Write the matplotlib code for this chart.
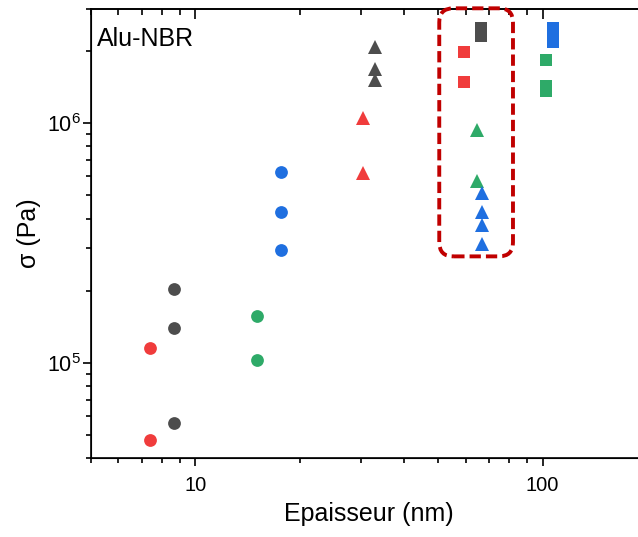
#!/usr/bin/env python3
# -*- encoding=UTF-8 -*-
import matplotlib
matplotlib.use("Agg")
import matplotlib.pyplot as plt
from matplotlib.patches import FancyBboxPatch
from matplotlib.transforms import IdentityTransform
from matplotlib.ticker import FuncFormatter, NullFormatter

# epaisseur (nm) / sigma (Pa), one list per colour and marker
red_circ_x = [7.4, 7.4]
red_circ_y = [1.155e5, 4.74e4]
gray_circ_x = [8.7, 8.7, 8.7]
gray_circ_y = [2.04e5, 1.40e5, 5.62e4]
green_circ_x = [15.0, 15.0]
green_circ_y = [1.56e5, 1.03e5]
blue_circ_x = [17.6, 17.6, 17.6]
blue_circ_y = [6.27e5, 4.25e5, 2.97e5]

red_tri_x = [30.3, 30.3]
red_tri_y = [1.05e6, 6.17e5]
gray_tri_x = [32.8, 32.8, 32.8]
gray_tri_y = [2.09e6, 1.68e6, 1.52e6]
green_tri_x = [64.8, 64.8]
green_tri_y = [9.36e5, 5.72e5]
blue_tri_x = [67.1, 67.1, 67.1, 67.1]
blue_tri_y = [5.13e5, 4.25e5, 3.76e5, 3.12e5]

red_sq_x = [59.4, 59.4]
red_sq_y = [1.99e6, 1.49e6]
gray_sq_x = [66.5, 66.5, 66.5]
gray_sq_y = [2.49e6, 2.40e6, 2.32e6]
green_sq_x = [102.4, 102.4, 102.4]
green_sq_y = [1.83e6, 1.43e6, 1.36e6]
blue_sq_x = [107.4, 107.4, 107.4]
blue_sq_y = [2.49e6, 2.33e6, 2.18e6]

# zone entouree (en nm / Pa)
box_x = (50.4, 82.2)
box_y = (2.78e5, 3.02e6)

RED = "#f03c3c"
GRAY = "#4d4d4d"
GREEN = "#2eaa68"
BLUE = "#1f6fe0"

plt.rcParams["font.family"] = ["Liberation Sans", "DejaVu Sans"]

fig = plt.figure(figsize=(6.38, 5.37), dpi=100)
ax = fig.add_axes([91 / 638, 79 / 537, 556 / 638, 449 / 537])
ax.set_xscale("log")
ax.set_yscale("log")

series = [
    (red_circ_x, red_circ_y, RED, "o", 9.2),
    (gray_circ_x, gray_circ_y, GRAY, "o", 9.2),
    (green_circ_x, green_circ_y, GREEN, "o", 9.2),
    (blue_circ_x, blue_circ_y, BLUE, "o", 9.2),
    (red_tri_x, red_tri_y, RED, "^", 9.8),
    (gray_tri_x, gray_tri_y, GRAY, "^", 9.8),
    (green_tri_x, green_tri_y, GREEN, "^", 9.8),
    (blue_tri_x, blue_tri_y, BLUE, "^", 9.8),
    (red_sq_x, red_sq_y, RED, "s", 8),
    (gray_sq_x, gray_sq_y, GRAY, "s", 8),
    (green_sq_x, green_sq_y, GREEN, "s", 8),
    (blue_sq_x, blue_sq_y, BLUE, "s", 8),
]
for xs, ys, c, m, ms in series:
    ax.plot(xs, ys, linestyle="none", marker=m, markersize=ms,
            color=c, markeredgewidth=0)

ax.set_xlim(5, 200)
ax.set_ylim(4e4, 3e6)

# x en clair : 10, 100
ax.xaxis.set_major_formatter(FuncFormatter(lambda v, p: "%g" % v))
ax.xaxis.set_minor_formatter(NullFormatter())

ax.spines["right"].set_visible(False)
for s in ["left", "bottom", "top"]:
    ax.spines[s].set_linewidth(1.2)

ax.tick_params(axis="both", which="major", direction="out", length=6,
               width=1.2, labelsize=14.5)
ax.tick_params(axis="both", which="minor", direction="out", length=3.6,
               width=1.2)
ax.tick_params(axis="y", which="major", pad=1.5, labelsize=15.5)
ax.tick_params(axis="x", which="both", pad=7)

# ticks en haut, vers l'interieur
ax2 = ax.twiny()
ax2.set_xscale("log")
ax2.set_xlim(ax.get_xlim())
ax2.spines["right"].set_visible(False)
ax2.spines["top"].set_linewidth(1.2)
ax2.tick_params(axis="x", which="major", direction="in", length=7,
                width=1.2, labeltop=False)
ax2.tick_params(axis="x", which="minor", direction="in", length=4.3,
                width=1.2)

ax.set_xlabel("Epaisseur (nm)", fontsize=18, labelpad=5)
ax.set_ylabel("σ (Pa)", fontsize=18, labelpad=4)

ax.text(0.01, 0.918, "Alu-NBR", transform=ax.transAxes, fontsize=18,
        va="baseline", ha="left")

# cadre pointille arrondi
fig.canvas.draw()
p0 = ax.transData.transform((box_x[0], box_y[0]))
p1 = ax.transData.transform((box_x[1], box_y[1]))
box = FancyBboxPatch((p0[0], p0[1]), p1[0] - p0[0], p1[1] - p0[1],
                     boxstyle="round,pad=0,rounding_size=14",
                     transform=IdentityTransform(), fill=False,
                     edgecolor="#c00000", linewidth=2.8,
                     linestyle=(0, (2.9, 1.3)), clip_on=False, zorder=5)
fig.patches.append(box)

plt.savefig("out.png", dpi=100)
